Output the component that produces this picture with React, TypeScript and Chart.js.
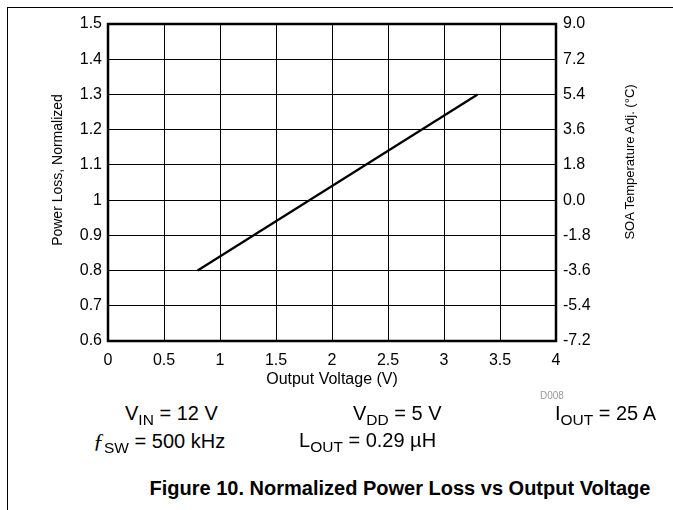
import React, { useEffect, useRef } from "react";
import { Chart, registerables } from "chart.js";

Chart.register(...registerables);

// ---- data ----
const outputVoltage = [0.8, 3.3];
const powerLossNorm = [0.8, 1.3];
const xRange = [0, 4];
const xStep = 0.5;
const xTickLabels = ["0", "0.5", "1", "1.5", "2", "2.5", "3", "3.5", "4"];
const leftRange = [0.6, 1.5];
const leftStep = 0.1;
const leftTickLabels = ["0.6", "0.7", "0.8", "0.9", "1", "1.1", "1.2", "1.3", "1.4", "1.5"];
const rightTickLabels = ["-7.2", "-5.4", "-3.6", "-1.8", "0.0", "1.8", "3.6", "5.4", "7.2", "9.0"];

const FONT = "'Liberation Sans', Arial, Helvetica, sans-serif";

const framePlugin = {
  id: "plotFrame",
  afterDraw(chart: any) {
    const { ctx, chartArea: a } = chart;
    ctx.save();
    ctx.strokeStyle = "#000";
    ctx.lineWidth = 2.5;
    ctx.strokeRect(a.left, a.top, a.right - a.left, a.bottom - a.top);
    ctx.restore();
  },
};

const abs = (extra: React.CSSProperties): React.CSSProperties => ({
  position: "absolute",
  whiteSpace: "nowrap",
  fontFamily: FONT,
  color: "#000",
  lineHeight: 1,
  ...extra,
});

const Sub = ({ children }: { children: React.ReactNode }) => (
  <span style={{ fontSize: 15.5, position: "relative", top: 5, verticalAlign: "baseline" }}>{children}</span>
);

// rotated (bottom-to-top) axis title centred at (cx, cy)
const VTitle = ({ cx, cy, size, text }: { cx: number; cy: number; size: number; text: string }) => (
  <div
    style={abs({
      left: cx - 100,
      top: cy - 10,
      width: 200,
      height: 20,
      lineHeight: "20px",
      textAlign: "center",
      fontSize: size,
      transform: "rotate(-90deg)",
      transformOrigin: "100px 10px",
    })}
  >
    {text}
  </div>
);

export default function App() {
  const canvasRef = useRef<HTMLCanvasElement | null>(null);

  useEffect(() => {
    const canvas = canvasRef.current;
    if (!canvas) return;
    const tickFont = { family: FONT, size: 16 };
    const chart = new Chart(canvas, {
      type: "scatter",
      data: {
        datasets: [
          {
            data: outputVoltage.map((x, i) => ({ x, y: powerLossNorm[i] })),
            showLine: true,
            borderColor: "#000",
            borderWidth: 2.2,
            pointRadius: 0,
            yAxisID: "y",
          },
        ],
      },
      options: {
        responsive: false,
        animation: false,
        devicePixelRatio: 1,
        layout: { padding: { top: 24, left: 0, right: 0, bottom: 0 } },
        plugins: { legend: { display: false }, tooltip: { enabled: false } },
        scales: {
          x: {
            type: "linear",
            min: xRange[0],
            max: xRange[1],
            ticks: {
              stepSize: xStep,
              color: "#000",
              font: tickFont,
              padding: 10,
              maxRotation: 0,
              autoSkip: false,
              callback: (_v: any, i: number) => xTickLabels[i],
            },
            grid: { color: "#000", lineWidth: 1, drawTicks: false },
            border: { display: false },
            title: {
              display: true,
              text: "Output Voltage (V)",
              color: "#000",
              font: { family: FONT, size: 16 },
              padding: { top: 0, bottom: 11 },
            },
            afterFit(s: any) {
              s.height = 59;
            },
          },
          y: {
            type: "linear",
            position: "left",
            min: leftRange[0],
            max: leftRange[1],
            ticks: {
              stepSize: leftStep,
              color: "#000",
              font: tickFont,
              padding: 6,
              autoSkip: false,
              callback: (_v: any, i: number) => leftTickLabels[i],
            },
            grid: { color: "#000", lineWidth: 1, drawTicks: false },
            border: { display: false },
            afterFit(s: any) {
              s.width = 108;
            },
          },
          y2: {
            type: "linear",
            position: "right",
            min: leftRange[0],
            max: leftRange[1],
            ticks: {
              stepSize: leftStep,
              color: "#000",
              font: tickFont,
              padding: 7,
              autoSkip: false,
              callback: (_v: any, i: number) => rightTickLabels[i],
            },
            grid: { display: false, drawTicks: false },
            border: { display: false },
            afterFit(s: any) {
              s.width = 117;
            },
          },
        },
      } as any,
      plugins: [framePlugin],
    });
    return () => chart.destroy();
  }, []);

  return (
    <div style={{ position: "absolute", left: 0, top: 0, width: 673, height: 510, background: "#fff", overflow: "hidden" }}>
      <div
        style={{
          position: "absolute",
          left: 7,
          top: 7,
          width: 666,
          height: 503,
          borderTop: "1px solid #000",
          borderLeft: "1px solid #000",
          boxSizing: "border-box",
        }}
      />
      <canvas ref={canvasRef} width={673} height={400} style={{ position: "absolute", left: 0, top: 0, display: "block" }} />
      <VTitle cx={57} cy={170} size={14} text="Power Loss, Normalized" />
      <VTitle cx={630} cy={162} size={13} text="SOA Temperature Adj. (°C)" />
      <div style={abs({ left: 540, top: 391, fontSize: 10, color: "#999" })}>D008</div>
      <div style={abs({ left: 125, top: 403, fontSize: 20 })}>
        V<Sub>IN</Sub> = 12 V
      </div>
      <div style={abs({ left: 353, top: 403, fontSize: 20 })}>
        V<Sub>DD</Sub> = 5 V
      </div>
      <div style={abs({ right: 17, top: 403, fontSize: 20 })}>
        I<Sub>OUT</Sub> = 25 A
      </div>
      <div style={abs({ left: 93, top: 430, fontSize: 20 })}>
        <span style={{ fontStyle: "italic", fontFamily: "'Liberation Serif', serif", fontSize: 22 }}>ƒ</span>
        <Sub>SW</Sub> = 500 kHz
      </div>
      <div style={abs({ left: 299, top: 430, fontSize: 20 })}>
        L<Sub>OUT</Sub> = 0.29 µH
      </div>
      <div style={abs({ left: 400, top: 488, fontSize: 20, fontWeight: "bold", transform: "translate(-50%, -50%)" })}>
        Figure 10. Normalized Power Loss vs Output Voltage
      </div>
    </div>
  );
}
